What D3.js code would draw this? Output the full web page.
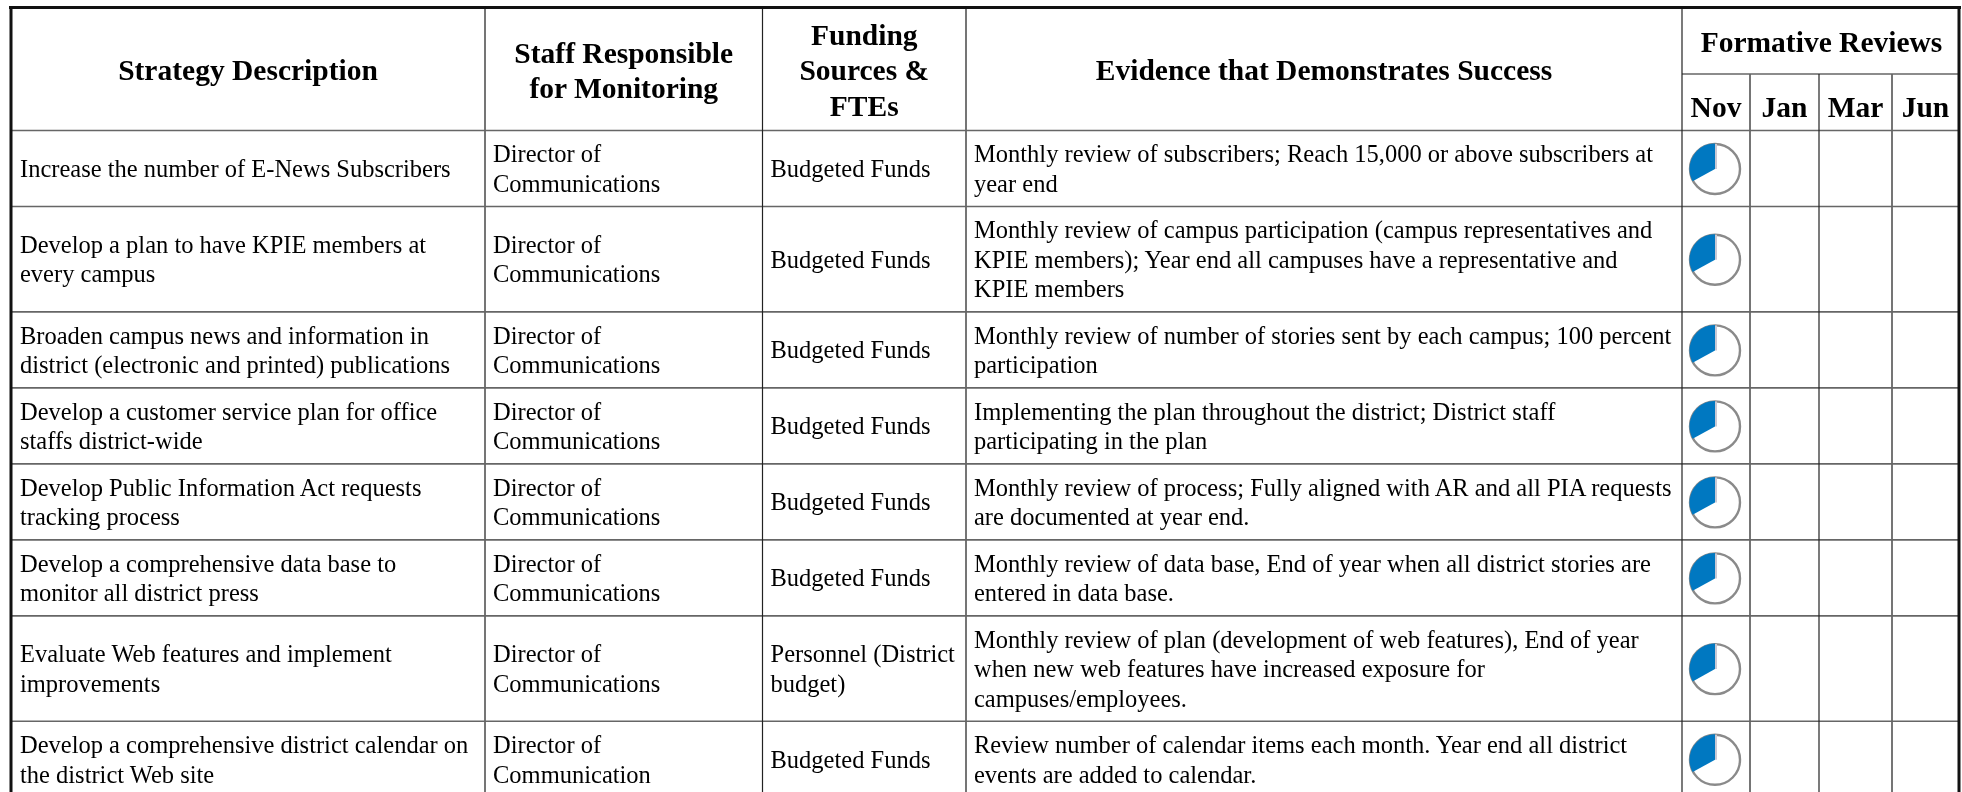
<!DOCTYPE html>
<html><head><meta charset="utf-8">
<script src="https://cdnjs.cloudflare.com/ajax/libs/d3/7.8.5/d3.min.js"></script>
<style>html,body{margin:0;padding:0;background:#fff;overflow:hidden}svg{display:block;filter:blur(0.35px)}text{font-family:"Liberation Serif",serif;fill:#000}</style>
</head><body><svg id="c" width="1962" height="792"></svg>
<script>
const headers = [["Strategy Description"],["Staff Responsible","for Monitoring"],["Funding","Sources &","FTEs"],["Evidence that Demonstrates Success"]];
const reviewGroup = "Formative Reviews";
const months = ["Nov","Jan","Mar","Jun"];
const strategies = [
 ["Increase the number of E-News Subscribers"],
 ["Develop a plan to have KPIE members at","every campus"],
 ["Broaden campus news and information in","district (electronic and printed) publications"],
 ["Develop a customer service plan for office","staffs district-wide"],
 ["Develop Public Information Act requests","tracking process"],
 ["Develop a comprehensive data base to","monitor all district press"],
 ["Evaluate Web features and implement","improvements"],
 ["Develop a comprehensive district calendar on","the district Web site"]];
const staff = [
 ["Director of","Communications"],["Director of","Communications"],["Director of","Communications"],["Director of","Communications"],
 ["Director of","Communications"],["Director of","Communications"],["Director of","Communications"],["Director of","Communication"]];
const funding = [["Budgeted Funds"],["Budgeted Funds"],["Budgeted Funds"],["Budgeted Funds"],["Budgeted Funds"],["Budgeted Funds"],["Personnel (District","budget)"],["Budgeted Funds"]];
const evidence = [
 ["Monthly review of subscribers; Reach 15,000 or above subscribers at","year end"],
 ["Monthly review of campus participation (campus representatives and","KPIE members); Year end all campuses have a representative and","KPIE members"],
 ["Monthly review of number of stories sent by each campus; 100 percent","participation"],
 ["Implementing the plan throughout the district; District staff","participating in the plan"],
 ["Monthly review of process; Fully aligned with AR and all PIA requests","are documented at year end."],
 ["Monthly review of data base, End of year when all district stories are","entered in data base."],
 ["Monthly review of plan (development of web features), End of year","when new web features have increased exposure for","campuses/employees."],
 ["Review number of calendar items each month. Year end all district","events are added to calendar."]];
const novProgress = [33,33,33,33,33,33,33,33];

const svg = d3.select("#c");
const LH = 29.4, PAD = 17.2, BODY = 24.5, HEAD = 29.5, HEADLH = 35.5;
const rowLines = evidence.map(d => d.length);
const cum = d3.cumsum(rowLines.map(n => n*LH + PAD));
const y = d3.scaleLinear().domain([0, cum[cum.length-1]]).range([130.5, 130.5 + cum[cum.length-1]]);
const rowEdges = [0, ...cum].map(y);
const colEdges = [11, 485, 762.5, 966, 1682, 1750, 1819, 1892, 1959];
const x = d3.scaleOrdinal().domain(d3.range(colEdges.length)).range(colEdges);

function lines(g, arr, tx, cy, lh, opts={}) {
  const t = g.append("text").attr("font-size", opts.size||BODY).attr("font-weight", opts.bold?"bold":"normal").attr("text-anchor", opts.anchor||"start");
  arr.forEach((s,i) => t.append("tspan").attr("x", tx).attr("y", cy + (i-(arr.length-1)/2)*lh + (opts.base||8.5)).text(s));
}
const body = svg.append("g");
[strategies, staff, funding, evidence].forEach((col, c) => {
  col.forEach((arr, r) => lines(body, arr, x(c)+(c===0?9:8), (rowEdges[r]+rowEdges[r+1])/2, LH));
});
const hdr = svg.append("g");
headers.forEach((arr, c) => lines(hdr, arr, (x(c)+x(c+1))/2, 70, arr.length===3?HEADLH:35, {bold:true, size:HEAD, anchor:"middle", base:10}));
lines(hdr, [reviewGroup], (x(4)+x(8))/2 + 1, 42, 0, {bold:true, size:HEAD, anchor:"middle", base:10});
months.forEach((m,i) => lines(hdr, [m], (x(4+i)+x(5+i))/2, 107, 0, {bold:true, size:HEAD, anchor:"middle", base:10}));

const hLines = [74, ...rowEdges];
const grid = svg.append("g");
hLines.forEach((yy,i) => grid.append("line").attr("x1", i===0?x(4):x(0)).attr("x2", x(8)).attr("y1", yy).attr("y2", yy).attr("stroke","#666").attr("stroke-width",1.6));
colEdges.slice(1,-1).forEach((xx,i) => {
  const dark = i%2===1;
  grid.append("line").attr("x1",xx).attr("x2",xx).attr("y1", i>=4 ? 74 : 7.5).attr("y2",792)
    .attr("stroke", dark?"#222":"#666").attr("stroke-width", dark?1.2:1.8);
});
svg.append("line").attr("x1",9).attr("x2",1961).attr("y1",7.5).attr("y2",7.5).attr("stroke","#111").attr("stroke-width",3);
[x(0),x(8)].forEach(xx => svg.append("line").attr("x1",xx).attr("x2",xx).attr("y1",6).attr("y2",792).attr("stroke","#111").attr("stroke-width",3));

const pie = d3.pie().sort(null).startAngle(0).endAngle(-2*Math.PI);
const arc = d3.arc().innerRadius(0).outerRadius(25.5);
const cx = (x(4)+x(5))/2 - 1;
const marks = svg.append("g");
novProgress.forEach((v,r) => {
  const g = marks.append("g").attr("transform",`translate(${cx},${(rowEdges[r]+rowEdges[r+1])/2 + 0.5})`);
  g.append("circle").attr("r",25).attr("fill","#fff").attr("stroke","#8a8a8a").attr("stroke-width",2.4);
  g.append("line").attr("x1",1).attr("x2",1).attr("y1",-25).attr("y2",0).attr("stroke","#c9c9d4").attr("stroke-width",2);
  g.selectAll("path").data(pie([v,100-v]).slice(0,1)).join("path").attr("d",arc).attr("fill","#0078c1");
});
</script></body></html>
